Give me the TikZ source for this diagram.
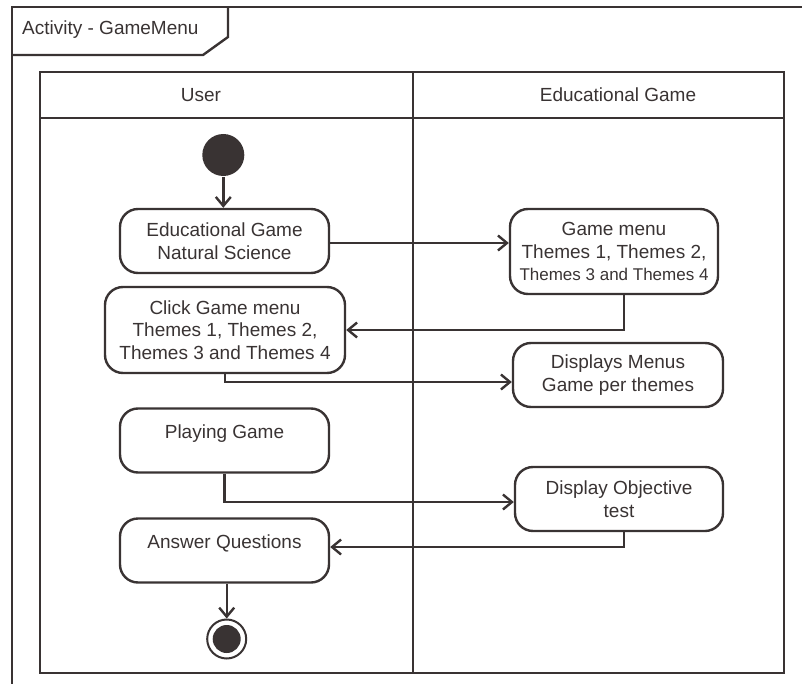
\documentclass[tikz,border=0pt]{standalone}
\usepackage{fontspec}
\setmainfont{Liberation Sans}
\usetikzlibrary{arrows.meta,calc}
\definecolor{ink}{HTML}{393333}
\begin{document}
\begin{tikzpicture}[x=1bp,y=-1bp,color=ink,line width=2.4bp,
  act/.style={draw=ink, rounded corners=18bp, minimum width=209bp, minimum height=64bp,
    inner sep=0pt, align=center, font=\fontsize{19bp}{22.7bp}\selectfont},
  arr/.style={-{Straight Barb[length=9bp,width=15bp]}},
  lbl/.style={font=\fontsize{19bp}{22.7bp}\selectfont, inner sep=0pt}]
\useasboundingbox (0,0) rectangle (802,684);
% outer frame and tab
\draw (12,690) -- (12,7) -- (810,7);
\draw (12,55) -- (203,55) -- (228,37) -- (228,7);
\node[lbl, anchor=west] (title) at (21,30) {Activity - GameMenu};
% swimlanes
\draw (40,72) rectangle (784,673);
\draw (40,118) -- (784,118);
\draw (413,72) -- (413,673);
\node[lbl] (hu) at (201,95) {User};
\node[lbl] (hg) at (618,95) {Educational Game};
% nodes
\node[circle, fill=ink, minimum size=42bp, inner sep=0pt] (start) at (223.3,155) {};
\node[act] (n1) at (224.5,241) {Educational Game\\Natural Science};
\node[act, minimum width=240bp, minimum height=86bp] (n2) at (225,330) {Click Game menu\\Themes 1, Themes 2,\\Themes 3 and Themes 4};
\node[act, minimum width=208bp, minimum height=85bp] (n3) at (614,251.5) {Game menu\\Themes 1, Themes 2,\\{\fontsize{17bp}{20bp}\selectfont Themes 3 and Themes 4}};
\node[act, minimum width=210bp] (n4) at (618,375) {Displays Menus\\Game per themes};
\node[act] (n5) at (224.5,440.5) {Playing Game\\[-12bp]\strut};
\node[act] (n6) at (224.5,550.5) {Answer Questions\\[-12bp]\strut};
\node[act, minimum width=208bp] (n7) at (619,499) {Display Objective\\test};
\node[circle, draw=ink, line width=2bp, minimum size=39bp, inner sep=0pt] (endc) at (226.7,639) {};
\node[circle, fill=ink, minimum size=28bp, inner sep=0pt] (endi) at (endc) {};
% connectors
\draw[arr] (start) -- (start |- n1.north);
\draw[arr] ([yshift=-2bp]n1.east) -- ([yshift=-2bp]n1.east -| n3.west);
\draw[arr] ([xshift=10bp]n3.south) |- (n2.east);
\draw[arr] (n2.south) |- ([yshift=-7bp]n4.west);
\draw[arr] (n5.south) |- ([yshift=-3bp]n7.west);
\draw[arr] ([xshift=5bp]n7.south) |- ([yshift=3.5bp]n6.east);
\draw[arr] (endc |- n6.south) -- (endc.north);
\end{tikzpicture}
\end{document}
